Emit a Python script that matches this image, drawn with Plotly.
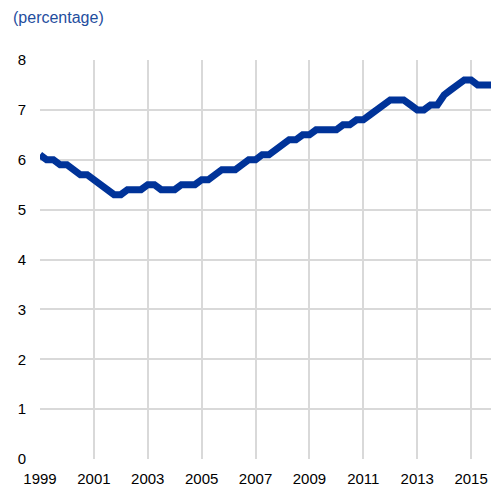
import pandas as pd
import plotly.graph_objects as go

# quarterly series, 1999Q1 - 2016Q1
start_quarter = "1999Q1"
values = [
    6.1, 6.0, 6.0, 5.9,
    5.9, 5.8, 5.7, 5.7,
    5.6, 5.5, 5.4, 5.3,
    5.3, 5.4, 5.4, 5.4,
    5.5, 5.5, 5.4, 5.4,
    5.4, 5.5, 5.5, 5.5,
    5.6, 5.6, 5.7, 5.8,
    5.8, 5.8, 5.9, 6.0,
    6.0, 6.1, 6.1, 6.2,
    6.3, 6.4, 6.4, 6.5,
    6.5, 6.6, 6.6, 6.6,
    6.6, 6.7, 6.7, 6.8,
    6.8, 6.9, 7.0, 7.1,
    7.2, 7.2, 7.2, 7.1,
    7.0, 7.0, 7.1, 7.1,
    7.3, 7.4, 7.5, 7.6,
    7.6, 7.5, 7.5, 7.5,
    7.5,
]
tick_years = ["1999", "2001", "2003", "2005", "2007", "2009", "2011", "2013", "2015"]
y_ticks = [0, 1, 2, 3, 4, 5, 6, 7, 8]

dates = pd.period_range(start_quarter, periods=len(values), freq="Q").to_timestamp()

# page body has an 8px margin, so the figure is a bit smaller than the window
W, H = 491, 483

fig = go.Figure()
fig.add_trace(go.Scatter(
    x=dates, y=values,
    mode="lines",
    line=dict(color="#003399", width=7),
    showlegend=False,
))

fig.update_layout(
    width=W, height=H,
    margin=dict(l=32, r=1, t=52, b=32),
    plot_bgcolor="white",
    paper_bgcolor="white",
    font=dict(family="Liberation Sans, Arial", size=15, color="black"),
    title=dict(
        text="(percentage)",
        font=dict(size=16, color="#1f4e9e"),
        xref="container", yref="container",
        x=5 / W, xanchor="left",
        y=1 - 9 / H, yanchor="middle",
    ),
)
fig.update_xaxes(
    type="date",
    range=[dates[0], "2016-01-01"],
    tickvals=[y + "-01-01" for y in tick_years],
    ticktext=tick_years,
    showgrid=True, gridcolor="#d9d9d9", gridwidth=2,
    zeroline=False, showline=False,
    ticks="outside", ticklen=6, tickcolor="white",
)
fig.update_yaxes(
    range=[0, 8],
    tickvals=y_ticks,
    showgrid=True, gridcolor="#d9d9d9", gridwidth=2,
    zeroline=False, showline=False,
    ticks="outside", ticklen=10, tickcolor="white",
)

fig.write_html("out.html")
